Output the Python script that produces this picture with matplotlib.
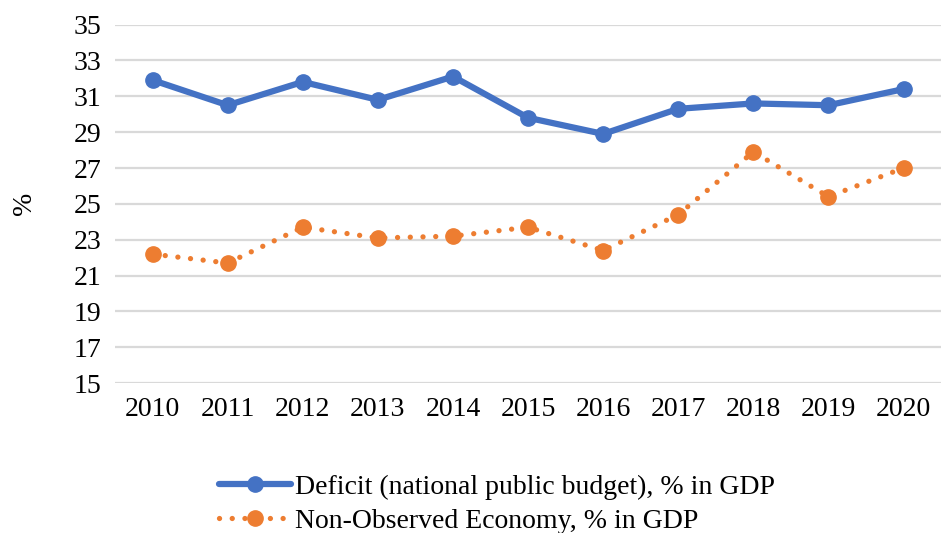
import matplotlib
matplotlib.use("Agg")
import matplotlib.pyplot as plt

years = ["2010", "2011", "2012", "2013", "2014", "2015", "2016", "2017", "2018", "2019", "2020"]
deficit = [31.9, 30.5, 31.8, 30.8, 32.1, 29.8, 28.9, 30.3, 30.6, 30.5, 31.4]
noe = [22.2, 21.7, 23.7, 23.1, 23.2, 23.7, 22.4, 24.4, 27.9, 25.4, 27.0]
yticks = [15, 17, 19, 21, 23, 25, 27, 29, 31, 33, 35]

plt.rcParams['font.family'] = ['Liberation Serif', 'DejaVu Serif']

fig = plt.figure(figsize=(9.43, 5.33), dpi=100)
ax = fig.add_axes([0.122, 0.281, 0.876, 0.673])

x = list(range(len(years)))
ax.plot(x, deficit, color='#4472C4', lw=4.5, marker='o', markersize=11,
        solid_capstyle='round', label='Deficit (national public budget), % in GDP', zorder=3)
ax.plot(x, noe, color='#ED7D31', lw=3.8, linestyle=(0, (0.01, 2.4)), dash_capstyle='round',
        marker='o', markersize=11, label='Non-Observed Economy, % in GDP', zorder=3)

ax.set_xlim(-0.5, len(years) - 0.5)
ax.set_ylim(15, 35)
ax.set_yticks(yticks)
ax.set_xticks(x)
ax.set_xticklabels(years)
ax.tick_params(axis='both', length=0, labelsize=20, colors='black')
ax.tick_params(axis='x', pad=10)
ax.tick_params(axis='y', pad=10)
for s in ax.spines.values():
    s.set_visible(False)
ax.grid(axis='y', color='#d9d9d9', lw=1.6)
ax.set_axisbelow(True)
ax.set_ylabel('%', fontsize=20, labelpad=26)

fig.legend(loc='center', bbox_to_anchor=(0.527, 0.054), ncol=1, frameon=False,
           fontsize=20, handlelength=2.6, handletextpad=0.15, labelspacing=0.3,
           borderaxespad=0)

fig.savefig('out.png', dpi=100)
